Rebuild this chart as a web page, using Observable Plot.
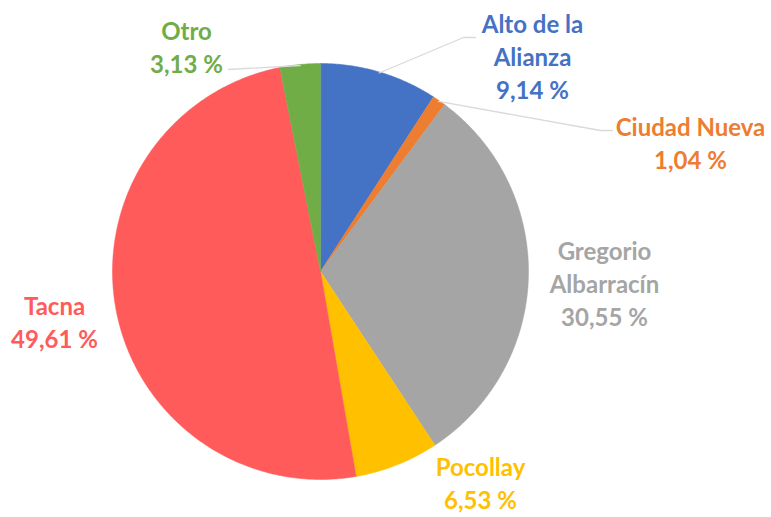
<!DOCTYPE html>
<html>
<head>
<meta charset="utf-8">
<script src="https://cdn.jsdelivr.net/npm/d3@7"></script>
<script src="https://cdn.jsdelivr.net/npm/@observablehq/plot@0.6"></script>
<style>
  html, body { margin: 0; padding: 0; background: #fff; }
  #chart svg { display: block; }
</style>
</head>
<body>
<div id="chart"></div>
<script>
// Data
const names = ["Alto de la Alianza", "Ciudad Nueva", "Gregorio Albarracín", "Pocollay", "Tacna", "Otro"];
const labelLines = ["Alto de la\nAlianza", "Ciudad Nueva", "Gregorio\nAlbarracín", "Pocollay", "Tacna", "Otro"];
const percents = [9.14, 1.04, 30.55, 6.53, 49.61, 3.13];
const colors = ["#4472C4", "#ED7D31", "#A5A5A5", "#FFC000", "#FF5B5B", "#70AD47"];

// Layout (pixel units)
const W = 771, H = 517;
const cx = 320, cy = 271, R = 208;
const labelX = [532, 690, 604, 480, 54, 186];
const labelY = [55, 141, 282, 481, 320, 45];
const leaders = [
  {i: 0, ex: 463, ey: 37, tx: 475, ty: 37},
  {i: 1, ex: 600, ey: 130, tx: 612, ty: 130},
  {i: 5, ex: 228, ey: 69, tx: 228, ty: 69}
];

const pie = d3.pie().sort(null).value(d => d)(percents);
const toXY = (a, r) => [cx + r * Math.sin(a), cy - r * Math.cos(a)];

// slice polygons
const slicePts = [];
pie.forEach((p, i) => {
  const n = Math.max(4, Math.ceil((p.endAngle - p.startAngle) / 0.01));
  slicePts.push({name: names[i], x: cx, y: cy});
  for (let j = 0; j <= n; j++) {
    const a = p.startAngle + (p.endAngle - p.startAngle) * j / n;
    const [x, y] = toXY(a, R);
    slicePts.push({name: names[i], x, y});
  }
});

// shadow outline (full circle)
const circlePts = d3.range(0, 361).map(k => {
  const [x, y] = toXY(k * Math.PI / 180, R);
  return {x, y};
});

// leader lines
const leaderPts = [];
leaders.forEach((l, li) => {
  const p = pie[l.i];
  const mid = (p.startAngle + p.endAngle) / 2;
  const [x0, y0] = toXY(mid, R - 1);
  leaderPts.push({id: li, x: x0, y: y0});
  leaderPts.push({id: li, x: l.ex, y: l.ey});
  leaderPts.push({id: li, x: l.tx, y: l.ty});
});

const labels = names.map((n, i) => ({
  name: n,
  text: labelLines[i] + "\n" + percents[i].toFixed(2).replace(".", ",") + " %",
  x: labelX[i], y: labelY[i]
}));

const chart = Plot.plot({
  width: W, height: H,
  margin: 0,
  x: {domain: [0, W], range: [0, W], axis: null},
  y: {domain: [0, H], range: [0, H], axis: null},
  color: {domain: names, range: colors},
  style: {background: "#fff"},
  marks: [
    Plot.line(circlePts, {x: "x", y: "y", fill: "#000", fillOpacity: 0.35, stroke: "none", curve: "linear-closed", ariaLabel: "shadow"}),
    Plot.line(slicePts, {x: "x", y: "y", z: "name", fill: "name", stroke: "name", strokeWidth: 0.5, curve: "linear-closed"}),
    Plot.line(leaderPts, {x: "x", y: "y", z: "id", stroke: "#D9D9D9", strokeWidth: 1.3}),
    Plot.text(labels, {x: "x", y: "y", text: "text", fill: "name", fontSize: 24, fontWeight: "bold", fontFamily: "Lato", lineHeight: 1.375, textAnchor: "middle", lineAnchor: "middle"})
  ]
});
// soft blur for the shadow
const svg = d3.select(chart);
const defs = svg.insert("defs", ":first-child");
defs.append("filter").attr("id", "pieShadow").attr("x", "-20%").attr("y", "-20%").attr("width", "140%").attr("height", "140%")
  .append("feGaussianBlur").attr("stdDeviation", 4);
svg.select('g[aria-label="shadow"]').attr("filter", "url(#pieShadow)");
document.getElementById("chart").appendChild(chart);
</script>
</body>
</html>
